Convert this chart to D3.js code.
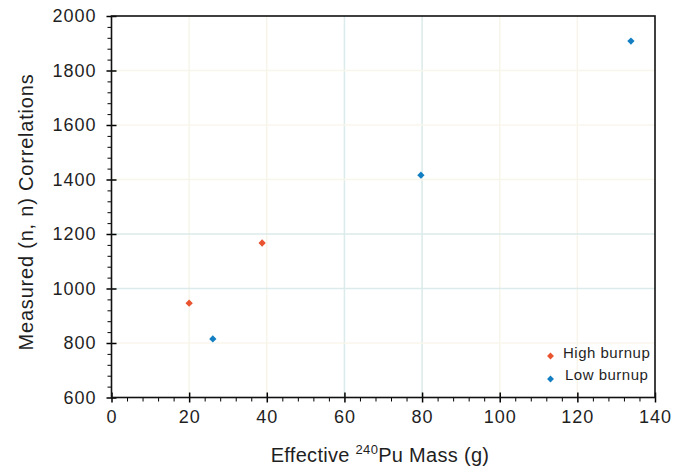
<!DOCTYPE html>
<head>
    <script src='https://cdn.jsdelivr.net/npm/d3@7'></script>
</head>
<style>
    body { margin: 0; background: #fff; }
    text { font-family: 'Liberation Sans', Arial, sans-serif; fill: #1f1f1f; }
</style>
<body>
    <svg></svg>
</body>

<script>
    var vWidth = 687;
    var vHeight = 468;
    var vMargin = {top: 16, right: 32, bottom: 70.5, left: 111.5};

    // data
    var highX = [20, 38.8];
    var highY = [946, 1167];
    var lowX = [26.1, 79.7, 133.8];
    var lowY = [815, 1416, 1908];
    var xTicks = [0, 20, 40, 60, 80, 100, 120, 140];
    var yTicks = [600, 800, 1000, 1200, 1400, 1600, 1800, 2000];
    var seriesNames = ['High burnup', 'Low burnup'];
    var seriesColors = ['#e9532f', '#137fc2'];

    var w = vWidth - vMargin.left - vMargin.right;
    var h = vHeight - vMargin.top - vMargin.bottom;

    var svg = d3.select('svg')
        .attr('width', vWidth)
        .attr('height', vHeight);

    var g = svg.append('g')
        .attr('transform', 'translate(' + vMargin.left + ',' + vMargin.top + ')');

    var x = d3.scaleLinear().domain([0, 140]).range([0, w]);
    var y = d3.scaleLinear().domain([600, 2000]).range([h, 0]);

    // faint grid, a couple of lines are a bit more teal than the rest
    var tealX = [60, 80];
    var tealY = [1000, 1200];
    g.selectAll('.gx')
        .data(xTicks.slice(1, -1))
        .enter().append('line')
        .attr('x1', function (d) { return x(d); })
        .attr('x2', function (d) { return x(d); })
        .attr('y1', 0).attr('y2', h)
        .attr('stroke', function (d) { return tealX.indexOf(d) >= 0 ? '#dbeaea' : '#f7f5ea'; })
        .attr('stroke-width', 1.5);
    g.selectAll('.gy')
        .data(yTicks.slice(1, -1))
        .enter().append('line')
        .attr('y1', function (d) { return y(d); })
        .attr('y2', function (d) { return y(d); })
        .attr('x1', 0).attr('x2', w)
        .attr('stroke', function (d) { return tealY.indexOf(d) >= 0 ? '#dbeaea' : '#f8f6eb'; })
        .attr('stroke-width', 1.5);

    // minor ticks (outside)
    var xMinor = d3.range(0, 141, 4).filter(function (d) { return d % 20 !== 0; });
    var yMinor = d3.range(600, 2001, 40).filter(function (d) { return d % 200 !== 0; });

    g.append('g')
        .attr('transform', 'translate(0,' + h + ')')
        .call(d3.axisBottom(x).tickValues(xMinor).tickSize(4).tickFormat(''))
        .call(function (s) { s.select('.domain').remove(); });
    g.append('g')
        .call(d3.axisLeft(y).tickValues(yMinor).tickSize(4).tickFormat(''))
        .call(function (s) { s.select('.domain').remove(); });

    // major ticks crossing the axis
    var xAxis = g.append('g')
        .attr('transform', 'translate(0,' + h + ')')
        .call(d3.axisBottom(x).tickValues(xTicks).tickSize(5).tickPadding(8).tickFormat(d3.format('d')));
    xAxis.select('.domain').remove();
    xAxis.selectAll('.tick line').attr('y1', -5).attr('stroke-width', 1.5);
    xAxis.selectAll('.tick text')
        .style('font-size', '18px')
        .style('letter-spacing', '1px');

    var yAxis = g.append('g')
        .call(d3.axisLeft(y).tickValues(yTicks).tickSize(5).tickPadding(10).tickFormat(d3.format('d')));
    yAxis.select('.domain').remove();
    yAxis.selectAll('.tick line').attr('x1', 5).attr('stroke-width', 1.5);
    yAxis.selectAll('.tick text')
        .style('font-size', '18px')
        .style('letter-spacing', '1px');

    // frame
    g.append('rect')
        .attr('width', w).attr('height', h)
        .attr('fill', 'none')
        .attr('stroke', '#111')
        .attr('stroke-width', 1.6);

    // points
    var diamond = d3.symbol().type(d3.symbolDiamond2).size(34);
    var sets = [d3.zip(highX, highY), d3.zip(lowX, lowY)];
    sets.forEach(function (pts, i) {
        g.selectAll('.s' + i)
            .data(pts)
            .enter().append('path')
            .attr('d', diamond)
            .attr('transform', function (d) { return 'translate(' + x(d[0]) + ',' + y(d[1]) + ')'; })
            .attr('fill', seriesColors[i]);
    });

    // legend
    var lg = svg.append('g').attr('transform', 'translate(550.5,356)');
    seriesNames.forEach(function (name, i) {
        var row = lg.append('g').attr('transform', 'translate(0,' + (i * 23) + ')');
        row.append('path')
            .attr('d', d3.symbol().type(d3.symbolDiamond2).size(30))
            .attr('fill', seriesColors[i]);
        row.append('text')
            .attr('x', 12.5 + i * 2).attr('y', 2.3 - i)
            .style('font-size', '15px')
            .style('letter-spacing', '0.5px')
            .text(name);
    });

    // axis titles
    var xt = svg.append('text')
        .attr('x', 380)
        .attr('y', 462)
        .attr('text-anchor', 'middle')
        .style('font-size', '20px')
        .style('letter-spacing', '0.3px');
    xt.append('tspan').text('Effective ');
    xt.append('tspan').attr('dy', -8).style('font-size', '13px').text('240');
    xt.append('tspan').attr('dy', 8).text('Pu Mass (g)');

    svg.append('text')
        .attr('transform', 'translate(33,212) rotate(-90)')
        .attr('text-anchor', 'middle')
        .style('font-size', '20px')
        .style('letter-spacing', '0.8px')
        .text('Measured (n, n) Correlations');
</script>
